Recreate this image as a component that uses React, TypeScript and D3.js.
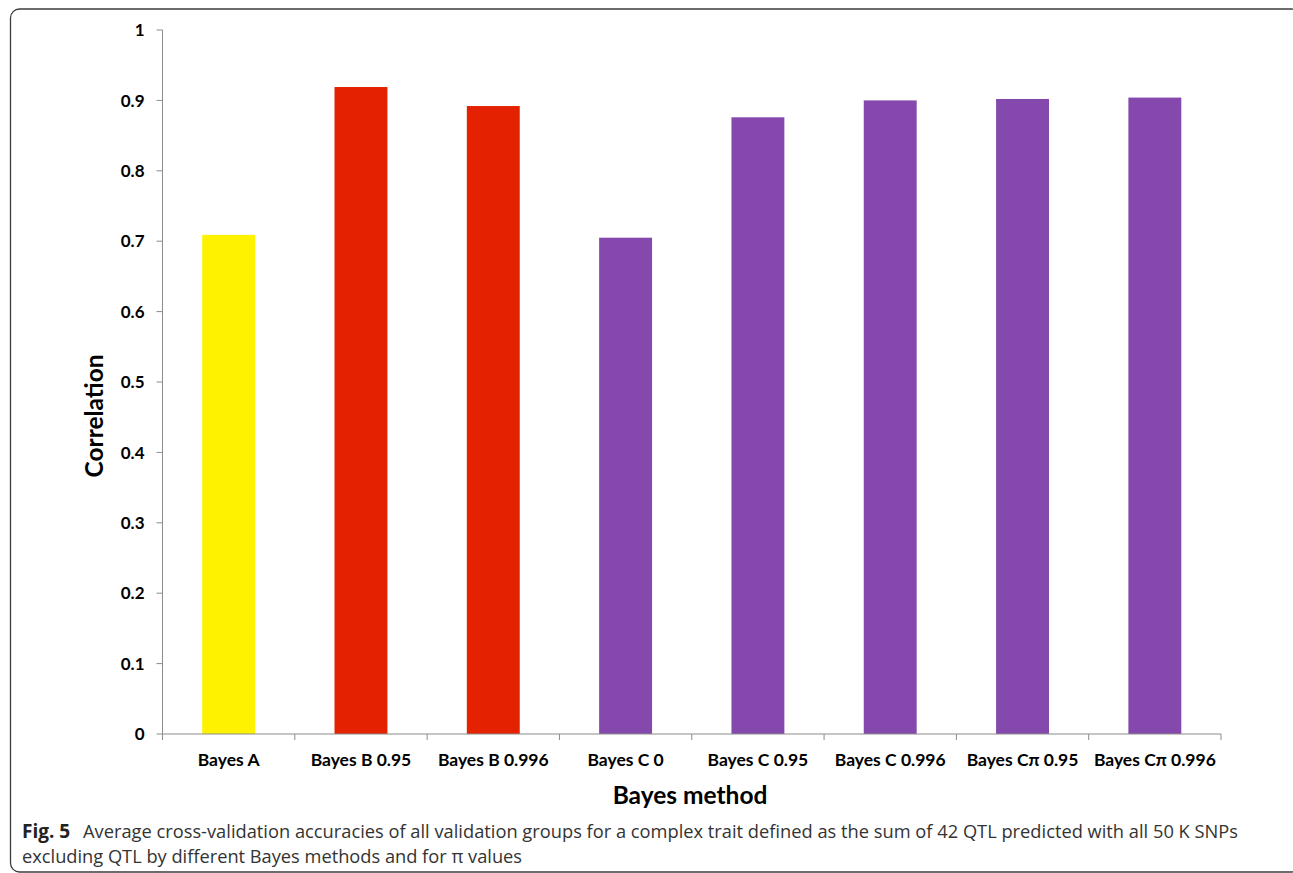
import React, { useEffect } from 'react';
import * as d3 from 'd3';

// Values
const methods = [
  'Bayes A',
  'Bayes B 0.95',
  'Bayes B 0.996',
  'Bayes C 0',
  'Bayes C 0.95',
  'Bayes C 0.996',
  'Bayes C\u03c0 0.95',
  'Bayes C\u03c0 0.996',
];
const correlations = [0.709, 0.919, 0.892, 0.705, 0.876, 0.9, 0.902, 0.904];
const barColors = ['#fff200', '#e52200', '#e52200', '#8549ae', '#8549ae', '#8549ae', '#8549ae', '#8549ae'];
const yTicks = [0, 0.1, 0.2, 0.3, 0.4, 0.5, 0.6, 0.7, 0.8, 0.9, 1];
const yTickLabels = ['0', '0.1', '0.2', '0.3', '0.4', '0.5', '0.6', '0.7', '0.8', '0.9', '1'];

const W = 1293;
const H = 873;
const plot = { left: 162.5, right: 1221, top: 30, bottom: 734 };
const chartFont = 'Lato, "Open Sans", sans-serif';
const captionFont = '"Open Sans", Lato, sans-serif';
const axisColor = '#8c8c8c';

const App: React.FC = () => {
  useEffect(() => {
    document.body.style.margin = '0';
  }, []);

  const x = d3.scaleBand<string>()
    .domain(methods)
    .range([plot.left, plot.right])
    .paddingInner(0.6)
    .paddingOuter(0.3);
  const step = x.step();

  const y = d3.scaleLinear().domain([0, 1]).range([plot.bottom, plot.top]);

  const boundaries = d3.range(methods.length + 1).map(i => plot.left + i * step);

  return (
    <svg width={W} height={H} style={{ display: 'block', background: '#fff' }}>
      {/* figure frame */}
      <rect x={10.5} y={9} width={1290} height={863} rx={9} fill="none" stroke="#3c3c3c" strokeWidth={1.3} />

      {/* bars */}
      {methods.map((m, i) => (
        <rect
          key={m}
          x={x(m)}
          y={y(correlations[i])}
          width={x.bandwidth()}
          height={y(0) - y(correlations[i])}
          fill={barColors[i]}
        />
      ))}

      {/* y axis */}
      <line x1={plot.left} x2={plot.left} y1={y(1)} y2={y(0)} stroke={axisColor} strokeWidth={1} />
      {yTicks.map((t, i) => (
        <g key={t} transform={`translate(0,${y(t)})`}>
          <line x1={plot.left - 6} x2={plot.left} stroke={axisColor} strokeWidth={1} />
          <text
            x={plot.left - 18}
            dy="0.36em"
            textAnchor="end"
            fontFamily={chartFont}
            fontWeight={700}
            fontSize={17}
            fill="#000"
          >
            {yTickLabels[i]}
          </text>
        </g>
      ))}

      {/* x axis */}
      <line x1={plot.left} x2={plot.right} y1={y(0)} y2={y(0)} stroke={axisColor} strokeWidth={1} />
      {boundaries.map(b => (
        <line key={b} x1={b} x2={b} y1={y(0)} y2={y(0) + 6} stroke={axisColor} strokeWidth={1} />
      ))}
      {methods.map(m => (
        <text
          key={m}
          x={(x(m) as number) + x.bandwidth() / 2}
          y={766}
          textAnchor="middle"
          fontFamily={chartFont}
          fontWeight={700}
          fontSize={17.5}
          fill="#000"
        >
          {m}
        </text>
      ))}

      {/* axis titles */}
      <text
        x={690}
        y={804}
        textAnchor="middle"
        fontFamily={chartFont}
        fontWeight={700}
        fontSize={24.5}
        fill="#000"
      >
        Bayes method
      </text>
      <text
        transform="translate(103,416) rotate(-90)"
        textAnchor="middle"
        fontFamily={chartFont}
        fontWeight={700}
        fontSize={24.5}
        fill="#000"
      >
        Correlation
      </text>

      {/* caption */}
      <text x={22} y={838} fontFamily={captionFont} fontSize={19} fill="#222" fontWeight={700}>
        Fig. 5
      </text>
      <text
        x={83}
        y={838}
        fontFamily={captionFont}
        fontSize={18}
        fill="#333"
        textLength={1155}
        lengthAdjust="spacingAndGlyphs"
      >
        Average cross-validation accuracies of all validation groups for a complex trait defined as the sum of 42 QTL predicted with all 50 K SNPs
      </text>
      <text
        x={22}
        y={863}
        fontFamily={captionFont}
        fontSize={18}
        fill="#333"
        textLength={500}
        lengthAdjust="spacingAndGlyphs"
      >
        excluding QTL by different Bayes methods and for {'\u03c0'} values
      </text>
    </svg>
  );
};

export default App;
